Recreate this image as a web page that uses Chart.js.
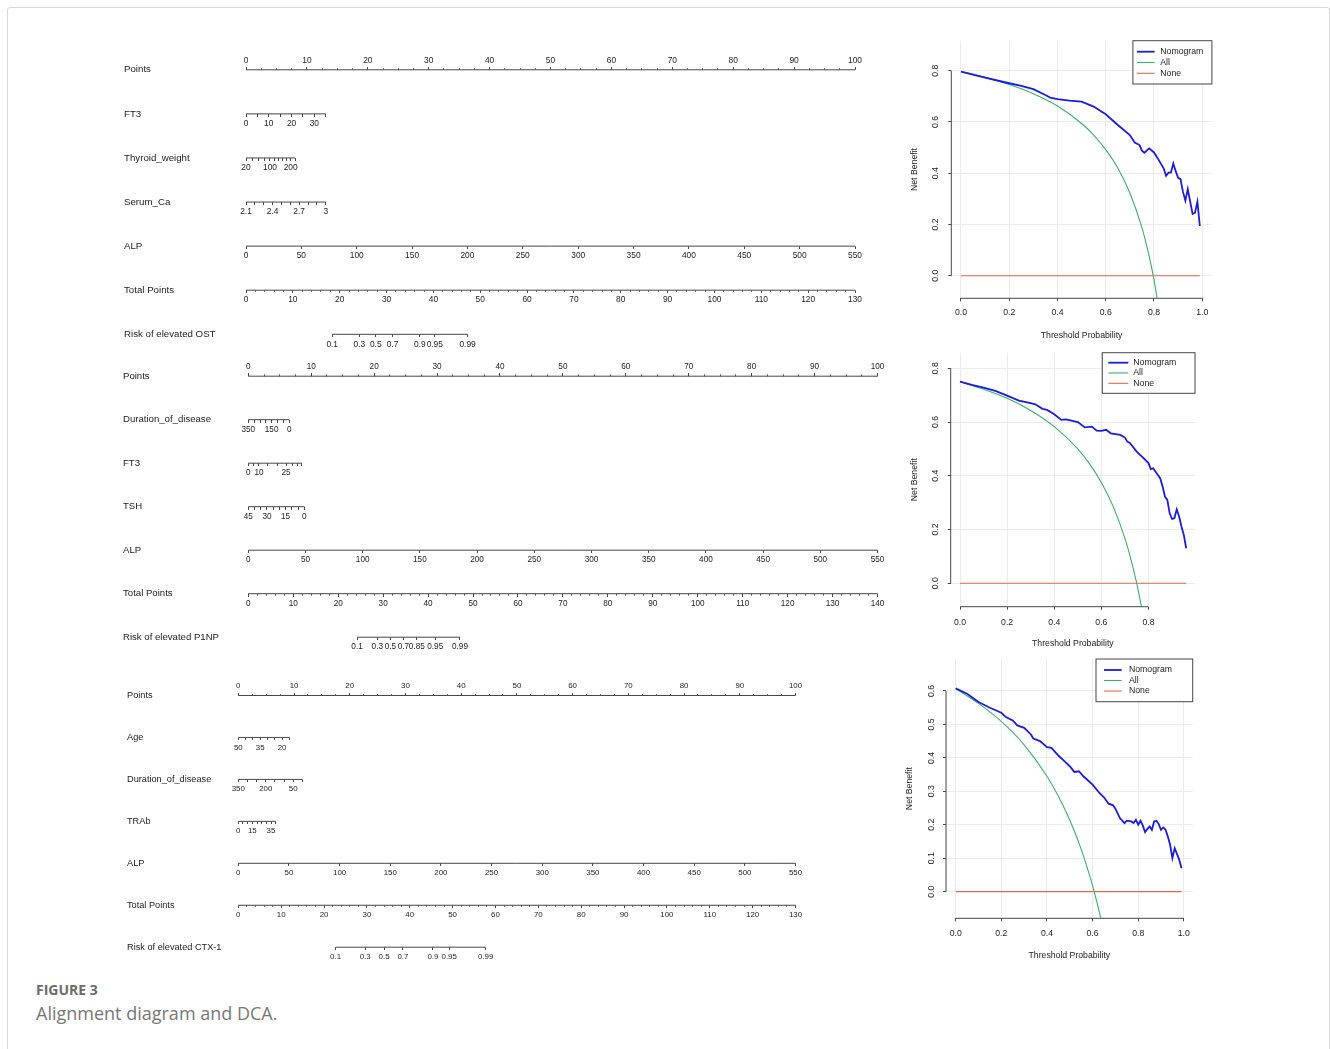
<!DOCTYPE html>
<html lang="en">
<head>
<meta charset="UTF-8">
<title>Alignment diagram and DCA</title>
<script src="https://cdn.jsdelivr.net/npm/chart.js@4.4.1/dist/chart.umd.min.js"></script>
<style>
  html, body { margin: 0; padding: 0; background: #fff; }
  body { width: 1330px; height: 1049px; position: relative; overflow: hidden; }
  .frame { position: absolute; left: 7px; top: 7px; width: 1321px; height: 1100px; border: 1px solid #d8d8d8; border-radius: 3px; }
  canvas { position: absolute; }
  .fig { position: absolute; left: 36px; top: 981px; font: bold 14px "Open Sans"; color: #6b6b6b; line-height: 18px; }
  .cap { position: absolute; left: 36px; top: 1001px; font: 18px "Open Sans"; color: #777; line-height: 24px; }
</style>
</head>
<body>
<div class="frame"></div>
<canvas id="nomo1"></canvas>
<canvas id="nomo2"></canvas>
<canvas id="nomo3"></canvas>
<canvas id="dca1"></canvas>
<canvas id="dca2"></canvas>
<canvas id="dca3"></canvas>
<div class="fig">FIGURE 3</div>
<div class="cap">Alignment diagram and DCA.</div>
<script>
// ---- nomogram data (tick values and the points they sit at) ----
const pointsTicks = [0, 10, 20, 30, 40, 50, 60, 70, 80, 90, 100];
const alpVal = [0, 50, 100, 150, 200, 250, 300, 350, 400, 450, 500, 550];
const alpPts = [0, 9.09, 18.18, 27.27, 36.36, 45.45, 54.55, 63.64, 72.73, 81.82, 90.91, 100];

// OST
const n1Rows = ['Points', 'FT3', 'Thyroid_weight', 'Serum_Ca', 'ALP', 'Total Points', 'Risk of elevated OST'];
const n1Ft3Val = [0, 5, 10, 15, 20, 25, 30, 35];
const n1Ft3Pts = [0, 1.87, 3.74, 5.61, 7.48, 9.35, 11.22, 13.09];
const n1Ft3Lab = [0, 10, 20, 30];
const n1TwVal = [20, 40, 60, 80, 100, 120, 140, 160, 180, 200, 220];
const n1TwPts = [0, 1.05, 2.05, 3.0, 3.94, 4.65, 5.35, 6.0, 6.65, 7.34, 8.05];
const n1TwLab = [20, 100, 200];
const n1CaVal = [2.1, 2.2, 2.3, 2.4, 2.5, 2.6, 2.7, 2.8, 2.9, 3];
const n1CaPts = [0, 1.46, 2.91, 4.37, 5.82, 7.28, 8.73, 10.19, 11.64, 13.1];
const n1CaLab = [2.1, 2.4, 2.7, 3];
const n1Total = [0, 10, 20, 30, 40, 50, 60, 70, 80, 90, 100, 110, 120, 130];
const n1RiskVal = [0.1, 0.3, 0.5, 0.7, 0.9, 0.95, 0.99];
const n1RiskTp = [18.4, 24.2, 27.7, 31.3, 37.1, 40.3, 47.3];

// P1NP
const n2Rows = ['Points', 'Duration_of_disease', 'FT3', 'TSH', 'ALP', 'Total Points', 'Risk of elevated P1NP'];
const n2DurVal = [350, 300, 250, 200, 150, 100, 50, 0];
const n2DurPts = [0, 0.93, 1.86, 2.79, 3.71, 4.64, 5.57, 6.5];
const n2DurLab = [350, 150, 0];
const n2Ft3Val = [0, 5, 10, 15, 20, 25, 30, 35, 40];
const n2Ft3Pts = [0, 0.8, 1.7, 3.1, 4.6, 6.0, 7.0, 7.8, 8.5];
const n2Ft3Lab = [0, 10, 25];
const n2TshVal = [45, 40, 35, 30, 25, 20, 15, 10, 5, 0];
const n2TshPts = [0, 0.99, 1.98, 2.97, 3.96, 4.94, 5.93, 6.92, 7.91, 8.9];
const n2TshLab = [45, 30, 15, 0];
const n2Total = [0, 10, 20, 30, 40, 50, 60, 70, 80, 90, 100, 110, 120, 130, 140];
const n2RiskVal = [0.1, 0.3, 0.5, 0.7, 0.85, 0.95, 0.99];
const n2RiskTp = [24.2, 28.7, 31.6, 34.5, 37.5, 41.6, 47.1];

// CTX-1
const n3Rows = ['Points', 'Age', 'Duration_of_disease', 'TRAb', 'ALP', 'Total Points', 'Risk of elevated CTX-1'];
const n3AgeVal = [50, 45, 40, 35, 30, 25, 20, 15];
const n3AgePts = [0, 1.31, 2.62, 3.93, 5.24, 6.54, 7.85, 9.16];
const n3AgeLab = [50, 35, 20];
const n3DurVal = [350, 300, 250, 200, 150, 100, 50, 0];
const n3DurPts = [0, 1.64, 3.28, 4.92, 6.57, 8.21, 9.85, 11.49];
const n3DurLab = [350, 200, 50];
const n3TrabVal = [0, 5, 10, 15, 20, 25, 30, 35, 40];
const n3TrabPts = [0, 0.84, 1.68, 2.52, 3.36, 4.19, 5.03, 5.87, 6.71];
const n3TrabLab = [0, 15, 35];
const n3Total = [0, 10, 20, 30, 40, 50, 60, 70, 80, 90, 100, 110, 120, 130];
const n3RiskVal = [0.1, 0.3, 0.5, 0.7, 0.9, 0.95, 0.99];
const n3RiskTp = [22.7, 29.6, 34.0, 38.4, 45.4, 49.2, 57.7];

// ---- decision curves ----
const dca1NomX = [0, 0.1, 0.2, 0.25, 0.3, 0.35, 0.37, 0.4, 0.45, 0.5, 0.55, 0.6, 0.65, 0.7, 0.72, 0.74, 0.75, 0.76, 0.78, 0.8, 0.82, 0.84, 0.85, 0.86, 0.87, 0.88, 0.89, 0.9, 0.91, 0.92, 0.93, 0.94, 0.95, 0.96, 0.97, 0.98, 0.99];
const dca1Nom = [0.796, 0.773, 0.751, 0.741, 0.728, 0.705, 0.695, 0.689, 0.683, 0.679, 0.66, 0.63, 0.588, 0.549, 0.52, 0.51, 0.488, 0.48, 0.497, 0.481, 0.451, 0.419, 0.39, 0.402, 0.402, 0.438, 0.408, 0.382, 0.377, 0.328, 0.293, 0.338, 0.289, 0.241, 0.246, 0.289, 0.194];
const dca1AllX = [0, 0.1, 0.2, 0.3, 0.4, 0.5, 0.55, 0.6, 0.65, 0.7, 0.75, 0.78, 0.8, 0.82];
const dca1All = [0.797, 0.774, 0.746, 0.71, 0.662, 0.594, 0.549, 0.492, 0.42, 0.323, 0.188, 0.077, -0.015, -0.13];
const dca1NoneX = [0, 0.99];
const dca1None = [0, 0];

const dca2NomX = [0, 0.05, 0.1, 0.15, 0.2, 0.25, 0.3, 0.32, 0.35, 0.37, 0.4, 0.43, 0.45, 0.5, 0.53, 0.56, 0.58, 0.6, 0.62, 0.64, 0.68, 0.7, 0.71, 0.72, 0.75, 0.78, 0.8, 0.81, 0.82, 0.84, 0.85, 0.86, 0.87, 0.88, 0.89, 0.9, 0.91, 0.92, 0.93, 0.94, 0.95, 0.96];
const dca2Nom = [0.75, 0.738, 0.728, 0.716, 0.698, 0.68, 0.67, 0.666, 0.649, 0.645, 0.629, 0.608, 0.61, 0.6, 0.58, 0.583, 0.568, 0.567, 0.571, 0.558, 0.552, 0.542, 0.527, 0.523, 0.49, 0.465, 0.447, 0.425, 0.428, 0.403, 0.39, 0.36, 0.322, 0.31, 0.26, 0.239, 0.242, 0.275, 0.248, 0.211, 0.18, 0.13];
const dca2AllX = [0, 0.1, 0.2, 0.3, 0.4, 0.5, 0.55, 0.6, 0.65, 0.7, 0.72, 0.75, 0.77];
const dca2All = [0.75, 0.722, 0.688, 0.643, 0.583, 0.5, 0.444, 0.375, 0.286, 0.167, 0.107, 0, -0.087];
const dca2NoneX = [0, 0.96];
const dca2None = [0, 0];

const dca3NomX = [0, 0.05, 0.1, 0.15, 0.2, 0.22, 0.25, 0.27, 0.3, 0.33, 0.34, 0.37, 0.4, 0.42, 0.45, 0.48, 0.5, 0.52, 0.54, 0.56, 0.6, 0.63, 0.65, 0.67, 0.69, 0.7, 0.72, 0.74, 0.75, 0.77, 0.78, 0.79, 0.8, 0.81, 0.82, 0.83, 0.84, 0.85, 0.86, 0.87, 0.88, 0.89, 0.9, 0.91, 0.92, 0.93, 0.94, 0.95, 0.96, 0.97, 0.98, 0.99];
const dca3Nom = [0.608, 0.592, 0.567, 0.55, 0.535, 0.522, 0.512, 0.497, 0.49, 0.47, 0.458, 0.45, 0.432, 0.43, 0.407, 0.388, 0.375, 0.358, 0.36, 0.345, 0.32, 0.295, 0.282, 0.263, 0.258, 0.248, 0.22, 0.205, 0.212, 0.21, 0.205, 0.215, 0.2, 0.212, 0.198, 0.178, 0.187, 0.195, 0.185, 0.21, 0.212, 0.202, 0.185, 0.192, 0.185, 0.165, 0.14, 0.1, 0.13, 0.113, 0.095, 0.07];
const dca3AllX = [0, 0.1, 0.2, 0.3, 0.4, 0.45, 0.5, 0.55, 0.6, 0.62, 0.64];
const dca3All = [0.607, 0.563, 0.509, 0.439, 0.345, 0.285, 0.214, 0.127, 0.018, -0.034, -0.09];
const dca3NoneX = [0, 0.99];
const dca3None = [0, 0];

const dcaXTicks = [0, 0.2, 0.4, 0.6, 0.8, 1.0];
const dca2XTicks = [0, 0.2, 0.4, 0.6, 0.8];
const dcaYTicks = [0, 0.2, 0.4, 0.6, 0.8];
const dca3YTicks = [0, 0.1, 0.2, 0.3, 0.4, 0.5, 0.6];

// ---- styling ----
const FONT = '"Liberation Sans", Arial, sans-serif';
const INK = '#222';
const LINE = '#474747';
const GRID = '#ececec';
const BLUE = '#1c1cd9';
const GREEN = '#3fac6f';
const RED = '#e2694f';

function tickImg(len, up) {
  const c = document.createElement('canvas');
  c.width = 1; c.height = Math.ceil(len) * 2;
  const g = c.getContext('2d');
  g.fillStyle = LINE;
  g.fillRect(0, up ? c.height / 2 - len : c.height / 2, 1, len);
  return c;
}
const TICK_UP = tickImg(3, true), TICK_DN = tickImg(3, false);
const MINOR_UP = tickImg(1.6, true), MINOR_DN = tickImg(1.6, false);

const labelsFor = (vals, lab) => vals.map(v => lab.includes(v) ? String(v) : '');
const zip = (xs, ys) => xs.map((x, i) => ({ x, y: ys[i] }));

function minorOf(major, step) {
  const out = [];
  for (let v = major[0]; v <= major[major.length - 1] + 1e-9; v += step) {
    if (!major.some(m => Math.abs(m - v) < 1e-9)) out.push(v);
  }
  return out;
}

function row(rows, r, pts, texts, axisId, up, minor) {
  const name = rows[r];
  const sets = [{
    data: [{ x: Math.min(...pts), y: name }, { x: Math.max(...pts), y: name }],
    xAxisID: axisId, showLine: true, borderColor: LINE, borderWidth: 1, pointRadius: 0, clip: false
  }, {
    data: pts.map(p => ({ x: p, y: name })), xAxisID: axisId,
    pointStyle: up ? TICK_UP : TICK_DN, pointRadius: 3, clip: false,
    row: r, up: up, tickText: texts
  }];
  if (minor) {
    sets.push({
      data: minor.map(p => ({ x: p, y: name })), xAxisID: axisId,
      pointStyle: up ? MINOR_UP : MINOR_DN, pointRadius: 3, clip: false
    });
  }
  return sets;
}

const nomoText = {
  id: 'nomoText',
  afterDatasetsDraw(chart, args, o) {
    const ctx = chart.ctx, ys = chart.scales.y;
    ctx.save();
    ctx.font = o.size + 'px ' + FONT;
    ctx.fillStyle = INK;
    ctx.textAlign = 'center';
    ctx.textBaseline = 'middle';
    chart.data.datasets.forEach(ds => {
      if (!ds.tickText) return;
      const xs = chart.scales[ds.xAxisID];
      const yy = ys.getPixelForValue(ds.row) + (ds.up ? -o.up : o.dn);
      ds.data.forEach((p, i) => {
        if (ds.tickText[i] !== '') ctx.fillText(ds.tickText[i], xs.getPixelForValue(p.x), yy);
      });
    });
    ctx.restore();
  }
};

function nomogram(id, g, rows, tpMax, sets) {
  const cv = document.getElementById(id);
  const L = Math.floor(g.labelX), T = Math.floor(g.row0 - 24);
  const W = Math.ceil(g.right + 14) - L, H = Math.ceil(g.row6 + 22) - T;
  cv.style.left = L + 'px'; cv.style.top = T + 'px';
  cv.width = W; cv.height = H;
  new Chart(cv, {
    type: 'scatter',
    data: { datasets: sets },
    options: {
      responsive: false, animation: false, events: [],
      layout: { padding: { left: 0, top: g.row0 - T, right: W - (g.right - L), bottom: H - (g.row6 - T) } },
      scales: {
        x: { display: false, min: 0, max: 100 },
        xt: { display: false, axis: 'x', position: 'bottom', min: 0, max: tpMax },
        y: {
          type: 'category', labels: rows, offset: false,
          afterFit: s => { s.width = g.left - L; },
          grid: { display: false, drawTicks: false }, border: { display: false },
          ticks: { autoSkip: false, crossAlign: 'far', padding: 0, color: INK, font: { family: FONT, size: g.fs } }
        }
      },
      plugins: { legend: { display: false }, tooltip: { enabled: false }, nomoText: { size: g.ts, up: 9.3, dn: 9.9 } }
    },
    plugins: [nomoText]
  });
}

const pointsMinor = minorOf(pointsTicks, 2.5);

nomogram('nomo1', { labelX: 124, left: 246, right: 855, row0: 69.8, row6: 334.3, fs: 9.7, ts: 8.4 }, n1Rows, 130, [
  ...row(n1Rows, 0, pointsTicks, pointsTicks.map(String), 'x', true, pointsMinor),
  ...row(n1Rows, 1, n1Ft3Pts, labelsFor(n1Ft3Val, n1Ft3Lab), 'x', false),
  ...row(n1Rows, 2, n1TwPts, labelsFor(n1TwVal, n1TwLab), 'x', false),
  ...row(n1Rows, 3, n1CaPts, labelsFor(n1CaVal, n1CaLab), 'x', false),
  ...row(n1Rows, 4, alpPts, alpVal.map(String), 'x', false),
  ...row(n1Rows, 5, n1Total, n1Total.map(String), 'xt', false, minorOf(n1Total, 2)),
  ...row(n1Rows, 6, n1RiskTp, n1RiskVal.map(String), 'xt', false)
]);

nomogram('nomo2', { labelX: 123.3, left: 248.3, right: 877.5, row0: 376.2, row6: 637.2, fs: 9.6, ts: 8.2 }, n2Rows, 140, [
  ...row(n2Rows, 0, pointsTicks, pointsTicks.map(String), 'x', true, pointsMinor),
  ...row(n2Rows, 1, n2DurPts, labelsFor(n2DurVal, n2DurLab), 'x', false),
  ...row(n2Rows, 2, n2Ft3Pts, labelsFor(n2Ft3Val, n2Ft3Lab), 'x', false),
  ...row(n2Rows, 3, n2TshPts, labelsFor(n2TshVal, n2TshLab), 'x', false),
  ...row(n2Rows, 4, alpPts, alpVal.map(String), 'x', false),
  ...row(n2Rows, 5, n2Total, n2Total.map(String), 'xt', false, minorOf(n2Total, 2)),
  ...row(n2Rows, 6, n2RiskTp, n2RiskVal.map(String), 'xt', false)
]);

nomogram('nomo3', { labelX: 127.3, left: 238.3, right: 795.5, row0: 695.5, row6: 947.2, fs: 9.2, ts: 7.9 }, n3Rows, 130, [
  ...row(n3Rows, 0, pointsTicks, pointsTicks.map(String), 'x', true, pointsMinor),
  ...row(n3Rows, 1, n3AgePts, labelsFor(n3AgeVal, n3AgeLab), 'x', false),
  ...row(n3Rows, 2, n3DurPts, labelsFor(n3DurVal, n3DurLab), 'x', false),
  ...row(n3Rows, 3, n3TrabPts, labelsFor(n3TrabVal, n3TrabLab), 'x', false),
  ...row(n3Rows, 4, alpPts, alpVal.map(String), 'x', false),
  ...row(n3Rows, 5, n3Total, n3Total.map(String), 'xt', false, minorOf(n3Total, 2)),
  ...row(n3Rows, 6, n3RiskTp, n3RiskVal.map(String), 'xt', false)
]);

// ---- DCA plots ----
const rAxes = {
  id: 'rAxes',
  beforeDatasetsDraw(chart) {
    const { ctx, chartArea: a } = chart, x = chart.scales.x, y = chart.scales.y;
    const xt = x.ticks, yt = y.ticks;
    ctx.save();
    ctx.strokeStyle = LINE; ctx.lineWidth = 1;
    ctx.beginPath();
    ctx.moveTo(x.getPixelForValue(xt[0].value), a.bottom);
    ctx.lineTo(x.getPixelForValue(xt[xt.length - 1].value), a.bottom);
    ctx.moveTo(a.left, y.getPixelForValue(yt[0].value));
    ctx.lineTo(a.left, y.getPixelForValue(yt[yt.length - 1].value));
    ctx.stroke();
    ctx.restore();
  }
};

const rLegend = {
  id: 'rLegend',
  afterDraw(chart, args, o) {
    const { ctx, chartArea: a } = chart;
    const left = a.right - o.w, top = a.top;
    ctx.save();
    ctx.fillStyle = '#fff';
    ctx.fillRect(left, top, o.w, o.h);
    ctx.strokeStyle = LINE; ctx.lineWidth = 1;
    ctx.strokeRect(left, top, o.w, o.h);
    ctx.font = o.fs + 'px ' + FONT;
    ctx.textBaseline = 'middle'; ctx.textAlign = 'left';
    chart.data.datasets.forEach((ds, i) => {
      const yy = top + o.y0 + i * o.dy;
      ctx.strokeStyle = ds.borderColor; ctx.lineWidth = ds.borderWidth;
      ctx.beginPath(); ctx.moveTo(left + o.l0, yy); ctx.lineTo(left + o.l1, yy); ctx.stroke();
      ctx.fillStyle = INK;
      ctx.fillText(ds.label, left + o.tx, yy);
    });
    ctx.restore();
  }
};

function dca(id, c, nom, all, none) {
  const cv = document.getElementById(id);
  const fs = 8.7, lh = fs * 1.2, tl = 3;
  const A = c.area;
  const L = Math.floor(c.ytitleX - 12), T = Math.floor(A.t - 12);
  const W = Math.ceil(A.r + 4) - L;
  const axL = A.l - L;
  const axB = (c.xtitleY - A.b) + lh / 2 + 2;
  const H = Math.ceil(A.b + axB + 1) - T;
  cv.style.left = L + 'px'; cv.style.top = T + 'px';
  cv.width = W; cv.height = H;
  const m = document.createElement('canvas').getContext('2d');
  m.font = fs + 'px ' + FONT;
  const widest = Math.max(...c.yticks.map(v => m.measureText(v.toFixed(1)).width));
  const font = { family: FONT, size: fs };
  new Chart(cv, {
    type: 'line',
    data: {
      datasets: [
        { label: 'Nomogram', data: nom, borderColor: BLUE, borderWidth: 1.8, pointRadius: 0, tension: 0 },
        { label: 'All', data: all, borderColor: GREEN, borderWidth: 1.1, pointRadius: 0, cubicInterpolationMode: 'monotone' },
        { label: 'None', data: none, borderColor: RED, borderWidth: 1.1, pointRadius: 0 }
      ]
    },
    options: {
      responsive: false, animation: false, events: [],
      layout: { padding: { left: 0, top: A.t - T, right: W - (A.r - L), bottom: H - (A.b - T) - axB } },
      scales: {
        x: {
          type: 'linear', min: c.x[0], max: c.x[1],
          afterBuildTicks: s => { s.ticks = c.xticks.map(v => ({ value: v })); },
          afterFit: s => { s.height = axB; },
          grid: { color: GRID, lineWidth: 1, tickColor: LINE, tickLength: tl, drawTicks: true },
          border: { display: false },
          ticks: { font, color: INK, padding: c.xlabY - A.b - tl - lh / 2, maxRotation: 0, autoSkip: false, callback: v => v.toFixed(1) },
          title: { display: true, text: 'Threshold Probability', font, color: INK, padding: { top: 0, bottom: 2 } }
        },
        y: {
          type: 'linear', min: c.y[0], max: c.y[1],
          afterBuildTicks: s => { s.ticks = c.yticks.map(v => ({ value: v })); },
          afterFit: s => { s.width = axL; },
          grid: { color: GRID, lineWidth: 1, tickColor: LINE, tickLength: tl, drawTicks: true },
          border: { display: false },
          ticks: { font, color: INK, minRotation: 90, maxRotation: 90, crossAlign: 'center', autoSkip: false,
                   padding: (A.l - c.ylabX) - tl - widest / 2, callback: v => v.toFixed(1) },
          title: { display: true, text: 'Net Benefit', font, color: INK, padding: { top: c.ytitleX - L - lh / 2, bottom: 0 } }
        }
      },
      plugins: { legend: { display: false }, tooltip: { enabled: false }, rLegend: Object.assign({ fs: 8.7 }, c.legend) }
    },
    plugins: [rAxes, rLegend]
  });
}

dca('dca1', {
  area: { l: 951.3, t: 40.7, r: 1211.9, b: 298.3 }, x: [-0.04, 1.04], y: [-0.088, 0.917],
  xticks: dcaXTicks, yticks: dcaYTicks, ytitleX: 915, xtitleY: 336, ylabX: 936, xlabY: 312.7,
  legend: { w: 79, h: 43.3, y0: 11, dy: 10.8, l0: 4, l1: 21.7, tx: 27.4 }
}, zip(dca1NomX, dca1Nom), zip(dca1AllX, dca1All), zip(dca1NoneX, dca1None));

dca('dca2', {
  area: { l: 950.7, t: 352.7, r: 1195, b: 606.7 }, x: [-0.0395, 0.9975], y: [-0.0875, 0.858],
  xticks: dca2XTicks, yticks: dcaYTicks, ytitleX: 915, xtitleY: 643.3, ylabX: 935.7, xlabY: 622.3,
  legend: { w: 92.7, h: 40.6, y0: 10, dy: 10.3, l0: 6, l1: 26, tx: 31 }
}, zip(dca2NomX, dca2Nom), zip(dca2AllX, dca2All), zip(dca2NoneX, dca2None));

dca('dca3', {
  area: { l: 946, t: 659, r: 1192.7, b: 918.3 }, x: [-0.0425, 1.039], y: [-0.0798, 0.6957],
  xticks: dcaXTicks, yticks: dca3YTicks, ytitleX: 910, xtitleY: 956, ylabX: 931.7, xlabY: 933.3,
  legend: { w: 96.7, h: 42.7, y0: 11, dy: 10.5, l0: 8, l1: 25.7, tx: 33 }
}, zip(dca3NomX, dca3Nom), zip(dca3AllX, dca3All), zip(dca3NoneX, dca3None));
</script>
</body>
</html>
